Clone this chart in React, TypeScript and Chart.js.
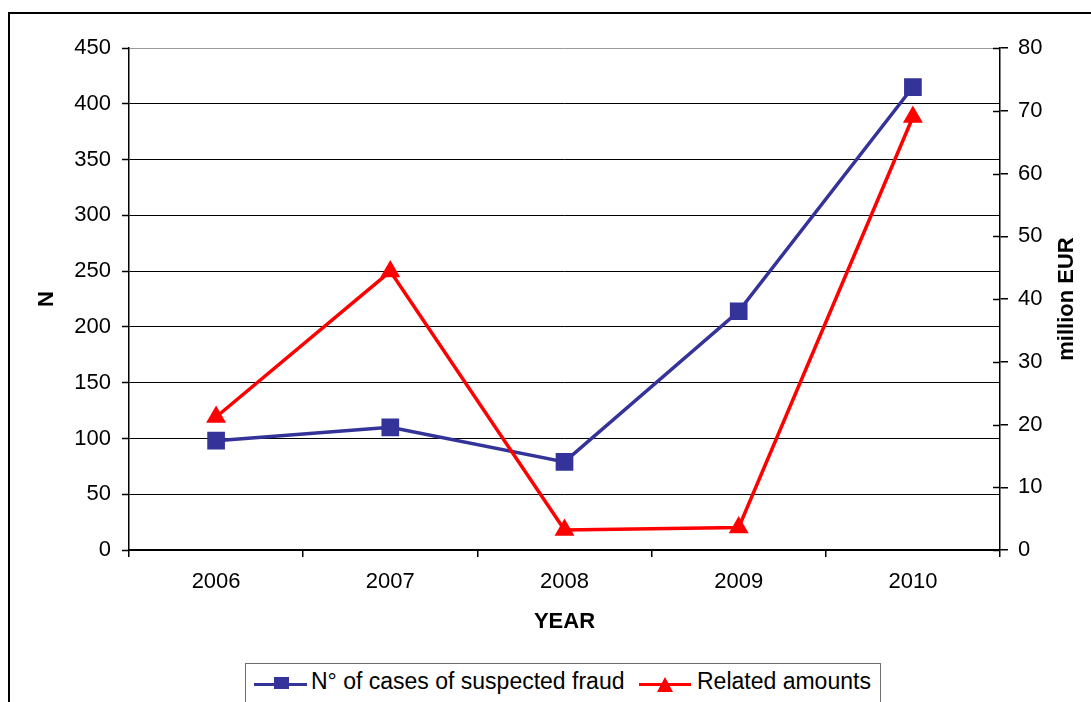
import { useEffect, useRef } from "react"
import { Chart, registerables } from "chart.js"

// Register Chart.js components
Chart.register(...registerables)

const years = ["2006", "2007", "2008", "2009", "2010"]
const fraudCases = [98, 110, 79, 214, 415]
const relatedAmounts = [21.2, 44.4, 3.2, 3.6, 69]
const seriesLabels = ["N° of cases of suspected fraud", "Related amounts"]
const xTitle = "YEAR"
const leftTitle = "N"
const rightTitle = "million EUR"

const FONT = "'Liberation Sans', Arial, Helvetica, sans-serif"
const BLUE = "#333399"
const RED = "#ff0000"

// right axis: ticks crossing the axis line and a title read bottom-to-top
const rightAxisExtras = {
  id: "rightAxisExtras",
  afterDraw(chart: any) {
    const { ctx, chartArea } = chart
    const y1 = chart.scales.y1
    ctx.save()
    ctx.strokeStyle = "#000"
    ctx.lineWidth = 1.5
    y1.ticks.forEach((t: any) => {
      const y = Math.round(y1.getPixelForValue(t.value)) + 0.5
      ctx.beginPath()
      ctx.moveTo(chartArea.right - 7, y)
      ctx.lineTo(chartArea.right, y)
      ctx.stroke()
    })
    ctx.translate(y1.right - 24, (chartArea.top + chartArea.bottom) / 2)
    ctx.rotate(-Math.PI / 2)
    ctx.font = `bold 22px ${FONT}`
    ctx.fillStyle = "#000"
    ctx.textAlign = "center"
    ctx.textBaseline = "middle"
    ctx.fillText(rightTitle, 0, 0)
    ctx.restore()
  },
}

function FraudChart() {
  const chartRef = useRef<HTMLCanvasElement>(null)
  const chartInstance = useRef<Chart | null>(null)

  useEffect(() => {
    if (!chartRef.current) return
    if (chartInstance.current) chartInstance.current.destroy()
    const ctx = chartRef.current.getContext("2d")
    if (!ctx) return

    Chart.defaults.font.family = FONT
    Chart.defaults.color = "#000"

    chartInstance.current = new Chart(ctx, {
      type: "line",
      data: {
        labels: years,
        datasets: [
          {
            label: seriesLabels[0],
            data: fraudCases,
            yAxisID: "y",
            borderColor: BLUE,
            backgroundColor: BLUE,
            borderWidth: 3.5,
            pointStyle: "rect",
            pointRadius: 12.5,
            pointBorderWidth: 0,
            tension: 0,
            order: 1,
          },
          {
            label: seriesLabels[1],
            data: relatedAmounts,
            yAxisID: "y1",
            borderColor: RED,
            backgroundColor: RED,
            borderWidth: 3.5,
            pointStyle: "triangle",
            pointRadius: 11.5,
            pointBorderWidth: 0,
            tension: 0,
            order: 0,
          },
        ],
      },
      options: {
        responsive: true,
        maintainAspectRatio: false,
        animation: false,
        events: [],
        layout: { padding: { top: 48, left: 0, right: 0, bottom: 0 } },
        plugins: {
          legend: { display: false },
          tooltip: { enabled: false },
        },
        scales: {
          x: {
            offset: true,
            grid: {
              offset: true,
              drawOnChartArea: false,
              tickLength: 7,
              color: "#000",
              lineWidth: 1.5,
            },
            border: { color: "#000", width: 1.5 },
            ticks: { font: { size: 22 }, padding: 12, color: "#000" },
            title: {
              display: true,
              text: xTitle,
              font: { size: 22, weight: "bold" },
              padding: { top: 0, bottom: 67 },
              color: "#000",
            },
            afterFit: (scale: any) => {
              scale.height = 152
            },
          },
          y: {
            position: "left",
            min: 0,
            max: 450,
            ticks: { stepSize: 50, font: { size: 22 }, padding: 11, color: "#000" },
            grid: {
              color: (c: any) => (c.tick && c.tick.value === 450 ? "#9a9a9a" : "#000"),
              lineWidth: 1,
              tickLength: 7,
              tickColor: "#000",
              tickWidth: 1.5,
            },
            border: { color: "#000", width: 1.5 },
            title: {
              display: true,
              text: leftTitle,
              font: { size: 22, weight: "bold" },
              padding: { top: 34, bottom: 0 },
              color: "#000",
            },
            afterFit: (scale: any) => {
              scale.width = 129
            },
          },
          y1: {
            position: "right",
            min: 0,
            max: 80,
            ticks: { stepSize: 10, font: { size: 22 }, padding: 10, color: "#000" },
            grid: {
              drawOnChartArea: false,
              tickLength: 8,
              color: "#000",
              lineWidth: 1.5,
            },
            border: { color: "#000", width: 1.5 },
            afterFit: (scale: any) => {
              scale.width = 91
            },
          },
        },
      },
      plugins: [rightAxisExtras],
    })

    return () => {
      if (chartInstance.current) {
        chartInstance.current.destroy()
        chartInstance.current = null
      }
    }
  }, [])

  return (
    <div style={{ position: "absolute", left: 0, top: 0, width: 1091, height: 702 }}>
      <canvas ref={chartRef} />
    </div>
  )
}

function Legend() {
  const text: React.CSSProperties = {
    position: "absolute",
    top: 4,
    lineHeight: "26px",
    fontSize: 23,
    fontFamily: FONT,
    color: "#000",
    whiteSpace: "nowrap",
  }
  return (
    <div
      style={{
        position: "absolute",
        left: 245,
        top: 663,
        width: 636,
        height: 60,
        border: "1px solid #6e6e6e",
        boxSizing: "border-box",
        background: "#fff",
      }}
    >
      <span style={{ position: "absolute", left: 8, top: 18.5, width: 53, height: 3.5, background: BLUE }} />
      <span style={{ position: "absolute", left: 28, top: 13, width: 15, height: 12, background: BLUE }} />
      <span style={{ ...text, left: 65 }}>{seriesLabels[0]}</span>
      <span style={{ position: "absolute", left: 393, top: 18.5, width: 52, height: 3.5, background: RED }} />
      <span
        style={{
          position: "absolute",
          left: 411,
          top: 13,
          width: 0,
          height: 0,
          borderLeft: "8px solid transparent",
          borderRight: "8px solid transparent",
          borderBottom: `15px solid ${RED}`,
        }}
      />
      <span style={{ ...text, left: 451 }}>{seriesLabels[1]}</span>
    </div>
  )
}

export default function App() {
  return (
    <div style={{ position: "fixed", left: 0, top: 0, width: 1091, height: 702, overflow: "hidden", background: "#fff" }}>
      <div
        style={{
          position: "absolute",
          left: 8,
          top: 12,
          width: 1100,
          height: 720,
          borderLeft: "2px solid #000",
          borderTop: "2px solid #000",
        }}
      />
      <FraudChart />
      <Legend />
    </div>
  )
}
